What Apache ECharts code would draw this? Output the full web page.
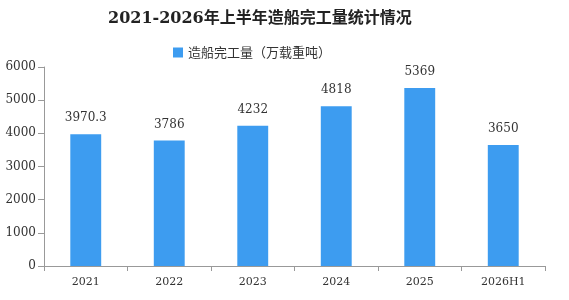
<!DOCTYPE html>
<html>
<head>
<meta charset="utf-8">
<script src="https://cdn.jsdelivr.net/npm/echarts@6/dist/echarts.min.js"></script>
<style>
html,body{margin:0;padding:0;background:#fff;}
#main{width:569px;height:300px;}
</style>
</head>
<body>
<div id="main"></div>
<script>
var years = ['2021', '2022', '2023', '2024', '2025', '2026H1'];
var output = [3970.3, 3786, 4232, 4818, 5369, 3650];
var labels = ['3970.3', '3786', '4232', '4818', '5369', '3650'];

var numFont = 'DejaVu Serif';
var myChart = echarts.init(document.getElementById('main'));
myChart.setOption({
    animation: false,
    title: {
        text: '2021-2026年上半年造船完工量统计情况',
        left: 103,
        top: 6,
        textStyle: { fontSize: 16, fontWeight: 'bold', color: '#222', fontFamily: 'DejaVu Serif, Noto Sans CJK SC' }
    },
    legend: {
        data: ['造船完工量（万载重吨）'],
        top: 41,
        left: 168,
        icon: 'rect',
        itemWidth: 10,
        itemHeight: 10,
        itemGap: 4,
        textStyle: { fontSize: 13, color: '#333', fontFamily: 'Noto Sans CJK SC' }
    },
    grid: { left: 44, right: 24, top: 67, bottom: 34 },
    xAxis: {
        type: 'category',
        data: years,
        axisLine: { lineStyle: { color: '#999' } },
        axisTick: { show: true, alignWithLabel: false, length: 5, lineStyle: { color: '#999' } },
        axisLabel: { color: '#333', fontSize: 11, fontFamily: numFont, margin: 11 }
    },
    yAxis: {
        type: 'value',
        min: 0,
        max: 6000,
        interval: 1000,
        axisLine: { show: true, lineStyle: { color: '#999' } },
        axisTick: { show: true, length: 6, lineStyle: { color: '#999' } },
        splitLine: { show: false },
        axisLabel: {
            color: '#333',
            fontSize: 12,
            fontFamily: numFont,
            margin: 8,
            formatter: function (v) { return String(v); }
        }
    },
    series: [{
        name: '造船完工量（万载重吨）',
        type: 'bar',
        data: output,
        barWidth: '37%',
        itemStyle: { color: '#3d9cf0' },
        label: {
            show: true,
            position: 'top',
            distance: 10,
            color: '#333',
            fontSize: 12,
            fontFamily: numFont,
            formatter: function (p) { return labels[p.dataIndex]; }
        }
    }]
});
</script>
</body>
</html>
